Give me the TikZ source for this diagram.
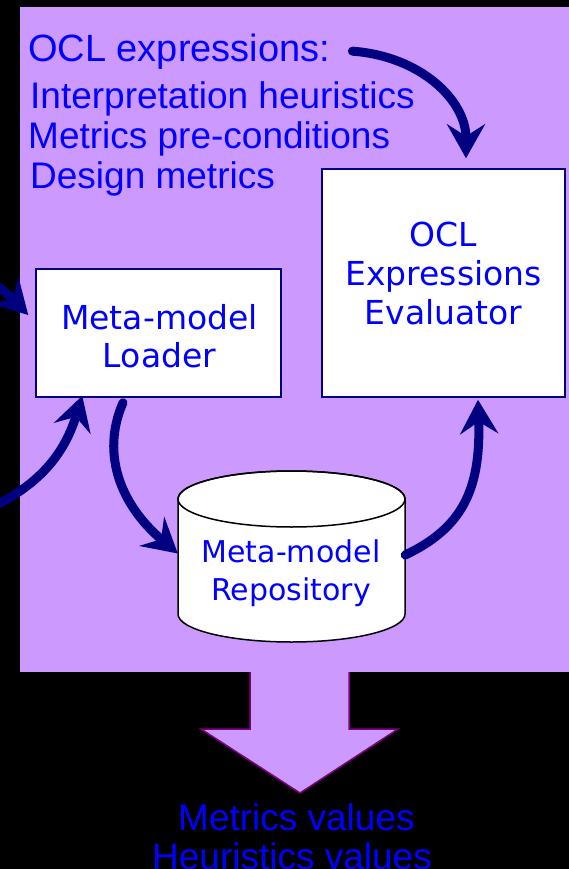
\documentclass[tikz,border=0pt]{standalone}
\usepackage{fontspec}
\setmainfont{Liberation Sans}
\newfontfamily\dejavu{DejaVu Sans}
\usetikzlibrary{arrows.meta,calc}
\definecolor{lilac}{HTML}{CC99FF}
\definecolor{navyb}{HTML}{000080}
\definecolor{txtblue}{HTML}{0000FF}
\definecolor{plum}{HTML}{800080}
\tikzset{
  box/.style={draw=navyb, line width=1.5pt, fill=white, inner sep=0pt},
  flow/.style={draw=navyb, line width=9pt, line cap=round,
    -{Stealth[length=34pt,width=38pt,inset=12pt]}},
  boxtxt/.style={text=txtblue, font=\dejavu\fontsize{33}{38}\selectfont, anchor=base, inner sep=0pt},
  cyltxt/.style={text=txtblue, font=\dejavu\fontsize{30}{36}\selectfont, anchor=base, inner sep=0pt},
  plaintxt/.style={text=txtblue, font=\fontsize{37}{44}\selectfont, anchor=base west, inner sep=0pt},
}
\begin{document}
\begin{tikzpicture}[x=1pt,y=-1pt]
\clip (0,0) rectangle (569,869);
\fill[black] (0,0) rectangle (569,869);
\fill[lilac] (20,7) rectangle (575,672);

% top-left texts
\node[plaintxt, font=\fontsize{38}{44}\selectfont] (oclx) at (28,62) {OCL expressions:};
\node[plaintxt] (interp) at (30,109) {Interpretation heuristics};
\node[plaintxt] (precond) at (28,149) {Metrics pre-conditions};
\node[plaintxt] (design) at (30,189) {Design metrics};

% boxes
\node[box, minimum width=245pt, minimum height=128pt] (loader) at (158.5,333) {};
\node[boxtxt] (loader1) at (159.5,329) {Meta-model};
\node[boxtxt] (loader2) at (159.5,367) {Loader};

\node[box, minimum width=243pt, minimum height=228pt] (eval) at (443.5,283) {};
\node[boxtxt] (eval1) at (443.5,246) {OCL};
\node[boxtxt] (eval2) at (443.5,285) {Expressions};
\node[boxtxt] (eval3) at (443.5,324) {Evaluator};

% repository cylinder
\filldraw[fill=white, draw=black, line width=1.5pt]
  (178,499) -- (178,614) arc[start angle=180,end angle=360,x radius=113.5pt,y radius=28pt]
  -- (405,499) arc[start angle=0,end angle=180,x radius=113.5pt,y radius=28pt] -- cycle;
\draw[black, line width=1.5pt] (291.5,499) ellipse[x radius=113.5pt, y radius=28pt];
\node[inner sep=0pt, minimum width=227pt, minimum height=171pt] (repo) at (291.5,556.5) {};
\node[cyltxt] (repo1) at (291,562) {Meta-model};
\node[cyltxt] (repo2) at (291,600) {Repository};

% free ends outside the picture
\coordinate (srcA) at (-40,262);
\coordinate (srcB) at (-25,515);

% connectors
\draw[flow] ($(oclx.east)+(22,-1)$) .. controls (420,56) and (466,100) .. ($(eval.north)+(22.5,-10)$);
\draw[flow] (srcA) .. controls (-10,278) and (10,296) .. ($(loader.west)+(-7,-18)$);
\draw[flow] (srcB) .. controls (30,492) and (62,462) .. ($(loader.south west)+(47,-2)$);
\draw[flow] ($(loader.south)+(-35.5,5)$) .. controls (103,448) and (115,500) .. ($(repo.west)+(0,-3)$);
\draw[flow] ($(repo.east)+(0,-1.5)$) .. controls (462,528) and (481,490) .. ($(eval.south)+(34.5,2)$);

% output arrow
\fill[lilac] (250,671) -- (250,729) -- (201,729) -- (300,793) -- (398,729) -- (349,729) -- (349,671) -- cycle;
\draw[plum, line width=1.5pt, line join=miter] (250,672) -- (250,729) -- (201,729) -- (300,793) -- (398,729) -- (349,729) -- (349,672);

\node[plaintxt] (mvals) at (178,830) {Metrics values};
\node[plaintxt] (hvals) at (152,869) {Heuristics values};
\end{tikzpicture}
\end{document}
